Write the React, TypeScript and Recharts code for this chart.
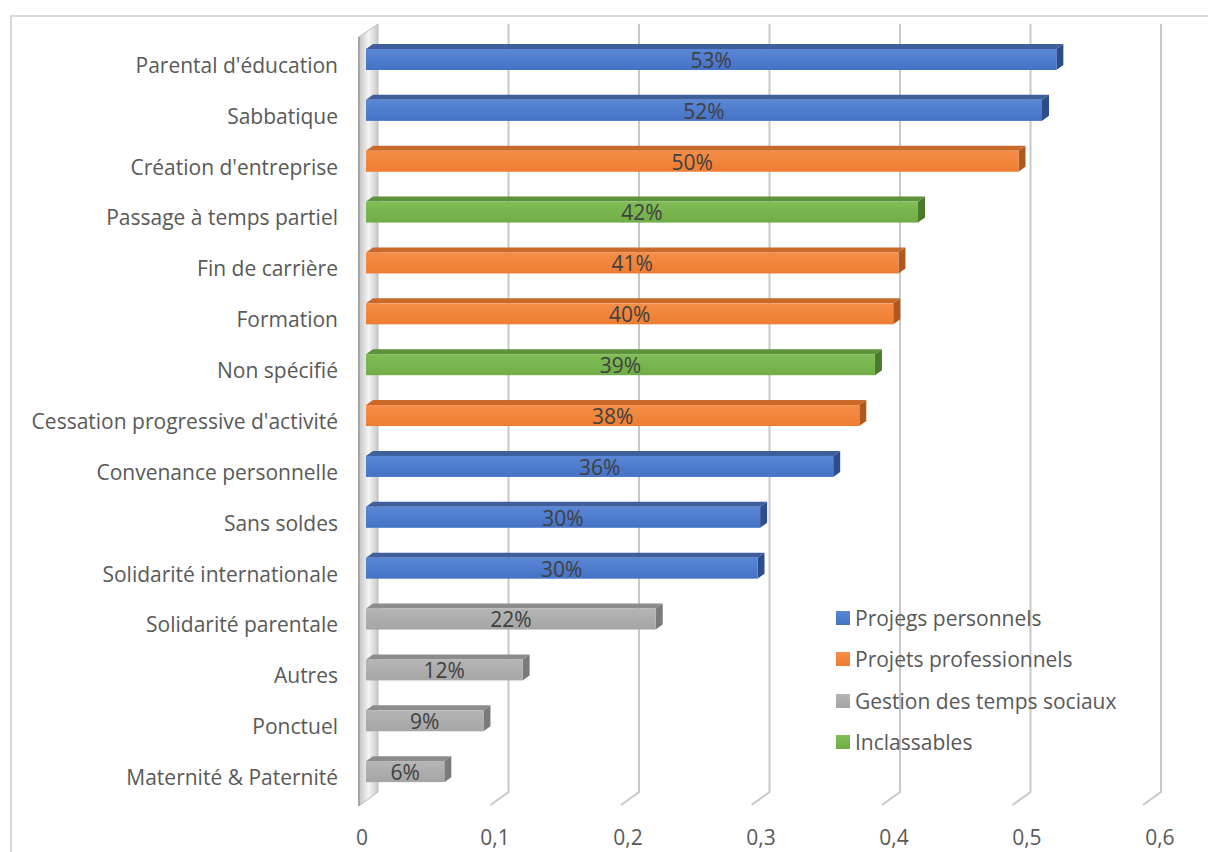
import React from 'react';
import { BarChart, Bar, XAxis, YAxis, CartesianGrid, LabelList } from 'recharts';

const categories = [
  "Parental d'éducation",
  'Sabbatique',
  "Création d'entreprise",
  'Passage à temps partiel',
  'Fin de carrière',
  'Formation',
  'Non spécifié',
  "Cessation progressive d'activité",
  'Convenance personnelle',
  'Sans soldes',
  'Solidarité internationale',
  'Solidarité parentale',
  'Autres',
  'Ponctuel',
  'Maternité & Paternité',
];
const values = [0.529, 0.518, 0.5, 0.423, 0.408, 0.404, 0.39, 0.378, 0.358, 0.302, 0.3, 0.222, 0.12, 0.09, 0.06];
// index into palette: 0 blue, 1 orange, 2 green, 3 gray
const groupOf = [0, 0, 1, 2, 1, 1, 2, 1, 0, 0, 0, 3, 3, 3, 3];

const legendNames = ['Projegs personnels', 'Projets professionnels', 'Gestion des temps sociaux', 'Inclassables'];
const legendOrder = [0, 1, 3, 2];
const xTicks = [0, 0.1, 0.2, 0.3, 0.4, 0.5, 0.6];

const palette = [
  { front: '#4472C4', light: '#5a86d6', top: '#3f5e9c', side: '#2d4c8c' },
  { front: '#ED7D31', light: '#f58e48', top: '#c96a2b', side: '#b0591f' },
  { front: '#70AD47', light: '#80bd57', top: '#5d913a', side: '#4b7a2d' },
  { front: '#A5A5A5', light: '#b5b5b5', top: '#8c8c8c', side: '#7a7a7a' },
];

const data = categories.map((name, i) => ({ name, value: values[i], group: groupOf[i] }));

const FONT = '"Open Sans", Lato, sans-serif';
const TEXT = '#595959';

function Bar3D(props: any) {
  const { x, y, width, height, payload } = props;
  const c = palette[payload.group];
  const yy = y - 6;
  const d = 7;
  const e = 5;
  return (
    <g>
      <polygon
        points={`${x},${yy} ${x + d},${yy - e} ${x + width + d},${yy - e} ${x + width},${yy}`}
        fill={c.top}
      />
      <polygon
        points={`${x + width},${yy} ${x + width + d},${yy - e} ${x + width + d},${yy + height - e} ${x + width},${yy + height}`}
        fill={c.side}
      />
      <rect x={x} y={yy} width={width} height={height} fill={`url(#grad${payload.group})`} />
    </g>
  );
}

function GridLine(props: any) {
  const { x1, y1, y2, index } = props;
  const bx = x1 + 12;
  const line = (
    <polyline
      key={`g${index}`}
      points={`${bx},${y1 - 16} ${bx},${y2 - 11} ${x1 - 6},${y2 + 2}`}
      fill="none"
      stroke="#c8c8c8"
      strokeWidth={2}
    />
  );
  if (index !== 0) return line;
  return (
    <g key={`g${index}`}>
      <polygon
        points={`${x1 - 7},${y1 - 3} ${bx},${y1 - 16} ${bx},${y2 - 11} ${x1 - 7},${y2 + 3}`}
        fill="url(#wall)"
        stroke="#bdbdbd"
        strokeWidth={1}
      />
      <line x1={x1 - 7} y1={y1 - 3} x2={x1 - 7} y2={y2 + 3} stroke="#a6a6a6" strokeWidth={2} />
    </g>
  );
}

function ValueLabel(props: any) {
  const { x, y, width, height, value } = props;
  return (
    <text
      x={x + width / 2}
      y={y + height / 2 - 5}
      dy="0.35em"
      textAnchor="middle"
      fill="#404040"
      fontSize={21}
      fontFamily={FONT}
    >
      {`${Math.round(value * 100)}%`}
    </text>
  );
}

function XTick(props: any) {
  const { x, y, payload } = props;
  const v = payload.value;
  const label = v === 0 ? '0' : v.toFixed(1).replace('.', ',');
  return (
    <text x={x - 4 + (x - 366) * 0.019} y={y + 40} textAnchor="middle" fill={TEXT} fontSize={21} fontFamily={FONT}>
      {label}
    </text>
  );
}

export default function App() {
  return (
    <div style={{ position: 'fixed', left: 0, top: 0, width: 1208, height: 852, overflow: 'hidden', background: '#fff' }}>
      <div
        style={{
          position: 'absolute',
          left: 10,
          top: 15,
          width: 1220,
          height: 860,
          borderLeft: '2px solid #d9d9d9',
          borderTop: '2px solid #d9d9d9',
        }}
      />
      <div style={{ position: 'absolute', left: 0, top: 0 }}>
        <BarChart
          width={1208}
          height={852}
          data={data}
          layout="vertical"
          margin={{ top: 40, right: 59, bottom: 9, left: 0 }}
          barSize={21}
        >
          <defs>
            {palette.map((c, i) => (
              <linearGradient key={i} id={`grad${i}`} x1="0" y1="0" x2="0" y2="1">
                <stop offset="0%" stopColor={c.light} />
                <stop offset="100%" stopColor={c.front} />
              </linearGradient>
            ))}
            <linearGradient id="wall" x1="0" y1="0" x2="1" y2="0">
              <stop offset="0%" stopColor="#c4c4c4" />
              <stop offset="50%" stopColor="#f4f4f4" />
              <stop offset="100%" stopColor="#c9c9c9" />
            </linearGradient>
          </defs>
          <CartesianGrid horizontal={false} vertical={GridLine} />
          <XAxis
            type="number"
            domain={[0, 0.6]}
            ticks={xTicks}
            axisLine={false}
            tickLine={false}
            tickSize={0}
            height={40}
            tick={XTick}
          />
          <YAxis
            type="category"
            dataKey="name"
            width={366}
            axisLine={false}
            tickLine={false}
            tickSize={0}
            tickMargin={28}
            interval={0}
            tick={{ fill: TEXT, fontSize: 21, fontFamily: FONT }}
          />
          <Bar dataKey="value" shape={Bar3D} isAnimationActive={false}>
            <LabelList dataKey="value" content={ValueLabel} />
          </Bar>
        </BarChart>
      </div>
      <div style={{ position: 'absolute', left: 836, top: 597, fontFamily: FONT, fontSize: 21, color: TEXT }}>
        {legendOrder.map((g, i) => (
          <div key={i} style={{ display: 'flex', alignItems: 'center', height: 41.5 }}>
            <span
              style={{
                display: 'inline-block',
                width: 14,
                height: 14,
                marginRight: 5,
                background: `linear-gradient(${palette[g].light}, ${palette[g].front})`,
              }}
            />
            {legendNames[i]}
          </div>
        ))}
      </div>
    </div>
  );
}
